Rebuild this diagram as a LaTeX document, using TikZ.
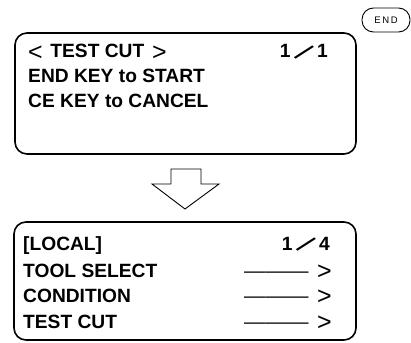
\documentclass[tikz,border=0pt]{standalone}
\usepackage{fontspec}
\setmainfont{Liberation Sans}
\usepackage{graphicx}

\tikzset{
  screen/.style={line width=1.6pt, rounded corners=12pt},
  lcd/.style={inner sep=0pt, font=\fontsize{19.2}{22}\selectfont\bfseries},
  keybtn/.style={line width=0.9pt, rounded corners=11.5pt}
}
\newcommand{\pgslash}{\raisebox{0.5pt}{\scalebox{1.5}{\rotatebox{-42}{\mdseries/}}}}
\newcommand{\lt}{\raisebox{-2.8pt}{\scalebox{1.3}{\mdseries<}}}
\newcommand{\gt}{\raisebox{-2.8pt}{\scalebox{1.3}{\mdseries>}}}
\newcommand{\golink}{\scalebox{1.12}[1]{\mdseries———}\hspace{0.45em}\gt}

\begin{document}
\begin{tikzpicture}[x=1pt,y=-1pt]
\path (0,0) rectangle (411,342);
% key
\draw[keybtn] (362,8) rectangle (410,32);
\node[inner sep=0pt, font=\fontsize{9.5}{10}\selectfont] (endkey) at (386,20) {E\,N\,D};
% first screen
\draw[screen] (15,33) rectangle (356,154);
\node[lcd, anchor=base west] (title) at (28,58) {\lt\hspace{0.4em}TEST CUT\hspace{0.4em}\gt};
\node[lcd, anchor=base east] (pagea) at (328,58) {1\,\pgslash\,1};
\node[lcd, anchor=base west] (start) at (28,83) {END KEY to START};
\node[lcd, anchor=base west] (cancel) at (28,107) {CE KEY to CANCEL};
% arrow
\draw[line width=0.9pt] (171,169) -- (201,169) -- (201,184) -- (219,184)
  -- (185,209) -- (152,184) -- (171,184) -- cycle;
% second screen
\draw[screen] (14,222) rectangle (356,340);
\node[lcd, anchor=base west] (local) at (23,250) {[LOCAL]};
\node[lcd, anchor=base east] (pageb) at (330,250) {1\,\pgslash\,4};
\node[lcd, anchor=base west] (tool) at (23,277) {TOOL SELECT};
\node[lcd, anchor=base west] (cond) at (23,302) {CONDITION};
\node[lcd, anchor=base west] (cut) at (23,328) {TEST CUT};
\node[lcd, anchor=base east] (toolgo) at (332,277) {\golink};
\node[lcd, anchor=base east] (condgo) at (332,302) {\golink};
\node[lcd, anchor=base east] (cutgo) at (332,328) {\golink};
\end{tikzpicture}
\end{document}
